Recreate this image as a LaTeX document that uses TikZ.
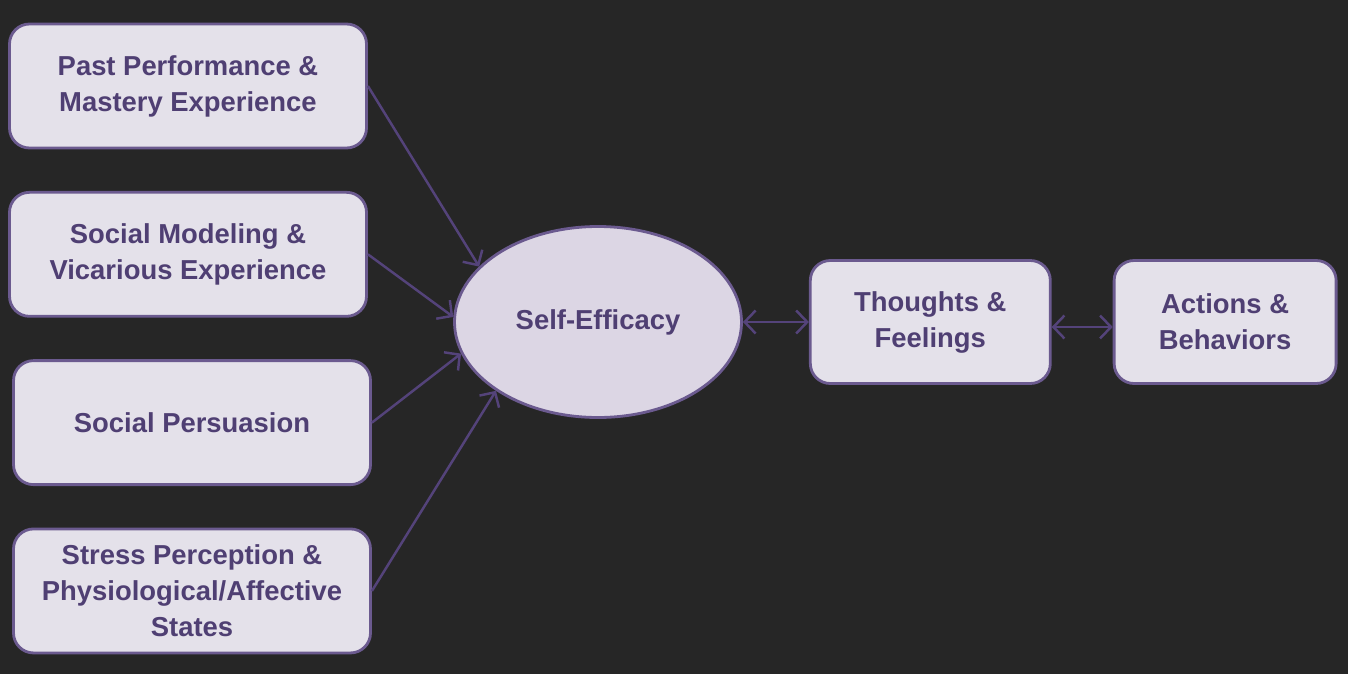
\documentclass[tikz,border=0pt]{standalone}
\usepackage{fontspec}
\setmainfont{Liberation Sans}
\usepackage{xcolor}
\usepackage{tikz}
\usetikzlibrary{shapes.geometric, arrows, arrows.meta, positioning}
\definecolor{bakgrunn}{HTML}{262626}
\definecolor{boksfyll}{HTML}{E4E1EA}
\definecolor{ovalfyll}{HTML}{DCD6E4}
\definecolor{lilla}{HTML}{6B5A8F}
\definecolor{pil}{HTML}{54437A}
\definecolor{tekst}{HTML}{4F3F73}
\tikzstyle{kilde} = [rectangle, minimum width=7.14cm, minimum height=2.48cm, draw=lilla, line width=1.6pt, fill=boksfyll, text=tekst, align=center, rounded corners=0.4cm, font=\bfseries\fontsize{15.6}{20.5}\selectfont]
\tikzstyle{utfall} = [kilde, minimum width=4.8cm, minimum height=2.46cm]
\tikzstyle{oval} = [ellipse, minimum width=5.74cm, minimum height=3.82cm, inner sep=0pt, draw=lilla, line width=1.6pt, fill=ovalfyll, text=tekst, font=\bfseries\fontsize{15.6}{20.5}\selectfont]
\tikzstyle{arrow} = [line width=1.4pt, draw=pil, ->, >={Straight Barb[length=2.2mm, width=4.6mm]}]
\tikzstyle{dobbel} = [arrow, <->]

\begin{document}
\begin{tikzpicture}
	\fill [bakgrunn] (0,0) rectangle (26.96,-13.48);

	\node (kilde1) [kilde] at (3.76,-1.72) {Past Performance \&\\Mastery Experience};
	\node (kilde2) [kilde, below=0.83cm of kilde1] {Social Modeling \&\\Vicarious Experience};
	\node (kilde3) [kilde, below=0.83cm of kilde2, xshift=0.08cm] {Social Persuasion};
	\node (kilde4) [kilde, below=0.83cm of kilde3] {Stress Perception \&\\Physiological/Affective\\States};
	\node (effekt) [oval] at (11.96,-6.44) {Self-Efficacy};
	\node (tanker) [utfall, right=1.32cm of effekt] {Thoughts \&\\Feelings};
	\node (handling) [utfall, right=1.22cm of tanker, minimum width=4.44cm] {Actions \&\\Behaviors};

	\draw [arrow] (kilde1.east) -- (effekt.155);
	\draw [arrow] (kilde2.east) -- (effekt.178);
	\draw [arrow] (kilde3.east) -- (effekt.193);
	\draw [arrow] (kilde4.east) -- (effekt.214);
	\draw [dobbel] (effekt) -- (tanker);
	\draw [dobbel] ([yshift=-0.1cm]tanker.east) -- ([yshift=-0.1cm]handling.west);
\end{tikzpicture}
\end{document}
